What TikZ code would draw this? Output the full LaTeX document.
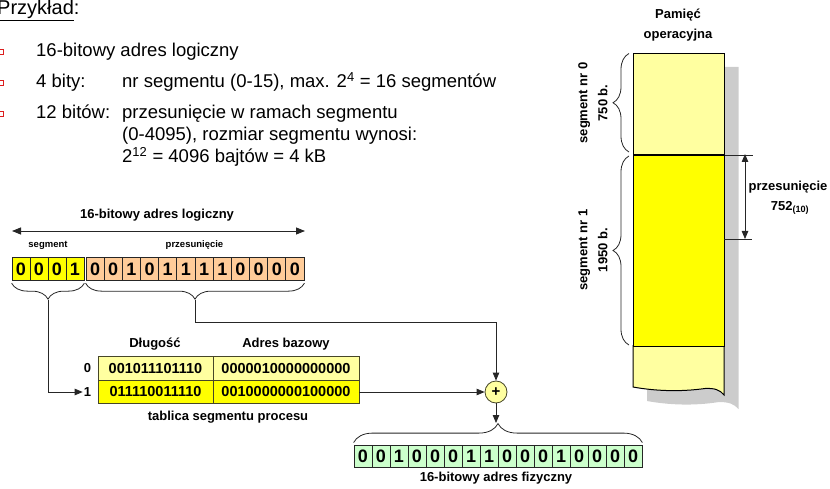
\documentclass[tikz,border=0pt]{standalone}
\usepackage{fontspec}
\setmainfont{Liberation Sans}
\usetikzlibrary{arrows.meta,decorations.pathreplacing}
\definecolor{zolty}{RGB}{255,255,0}
\definecolor{jasnyzolty}{RGB}{255,255,160}
\definecolor{lososiowy}{RGB}{255,204,153}
\definecolor{zielony}{RGB}{204,255,204}
\definecolor{cien}{RGB}{204,204,204}
\definecolor{punktor}{RGB}{220,30,30}
\definecolor{ramka}{RGB}{70,70,40}
\tikzset{
  bit/.style={draw=black!85, line width=0.8pt, minimum width=18pt, minimum height=23.5pt, inner sep=0pt, font=\fontsize{18}{18}\selectfont\bfseries},
  komorka/.style={draw=ramka, line width=0.8pt, minimum height=23.5pt, inner sep=0pt, font=\fontsize{14.5}{15}\selectfont\bfseries},
  opis/.style={font=\fontsize{13}{20}\selectfont\bfseries, inner sep=1pt},
  maly/.style={font=\fontsize{9.5}{10}\selectfont\bfseries, inner sep=1pt},
  tekst/.style={font=\fontsize{18.5}{20}\selectfont, anchor=base west, inner sep=0pt},
  punkt/.style={draw=punktor, fill=white, line width=0.7pt, minimum size=5pt, inner sep=0pt},
  strz/.style={-{Triangle[length=8pt,width=6.5pt]}, black!85, line width=0.8pt},
  klamra/.style={decorate, decoration={brace, amplitude=#1}, black!85, line width=0.8pt},
}
\begin{document}
\begin{tikzpicture}[x=10pt,y=-10pt]
   \useasboundingbox (0,0) rectangle (83,48.9);
   % tekst u gory
   \node[tekst] (przyklad) at (-0.3,1.45) {\fontsize{20}{22}\selectfont\underline{Przykład}:};
   \node[punkt] (b1) at (0.05,5.15) {};\node[punkt] (b2) at (0.05,8.25) {};\node[punkt] (b3) at (0.05,11.35) {};
   \node[tekst] (t1) at (3.6,5.7) {16-bitowy adres logiczny};
   \node[tekst] (t2) at (3.6,8.8) {4 bity:};
   \node[tekst] (t2a) at (12.2,8.8) {nr segmentu (0-15), max. 2\textsuperscript{4} = 16 segmentów};
   \node[tekst] (t3) at (3.6,11.9) {12 bitów:};
   \node[tekst] (t3a) at (12.2,11.9) {przesunięcie w ramach segmentu};
   \node[tekst] (t3b) at (12.2,14.1) {(0-4095), rozmiar segmentu wynosi:};
   \node[tekst] (t3c) at (12.2,16.3) {2\textsuperscript{12} = 4096 bajtów = 4 kB};
   % adres logiczny
   \node[opis] (llog) at (15.7,21.5) {16-bitowy adres logiczny};
   \coordinate (la) at (1.2,23.1);\coordinate (lb) at (30.5,23.1);
   \draw[{Triangle[length=9pt,width=7pt]}-{Triangle[length=9pt,width=7pt]}, black!85, line width=0.8pt] (la) -- (lb);
   \node[maly] (lseg) at (4.8,24.5) {segment};
   \node[maly] (lprz) at (19.45,24.5) {przesunięcie};
   \foreach \b [count=\i] in {0,0,0,1}
      \node[bit, fill=zolty] (s\i) at ({0.3+1.8*\i},26.9) {\b};
   \foreach \b [count=\i] in {0,0,1,0,1,1,1,1,0,0,0,0}
      \node[bit, fill=lososiowy, minimum width=18.2pt] (p\i) at ({7.69+1.817*\i},26.9) {\b};
   \draw[klamra=16pt] ([yshift=-2pt]s4.south east) -- ([yshift=-2pt]s1.south west);
   \draw[klamra=16pt] ([yshift=-2pt]p12.south east) -- ([yshift=-2pt]p1.south west);
   \coordinate (ks) at (4.8,29.95);\coordinate (kp) at (19.5,29.95);
   % tablica segmentow
   \node[opis] (hdl) at (15.5,34.4) {Długość};
   \node[opis] (had) at (28.6,34.4) {Adres bazowy};
   \node[komorka, fill=jasnyzolty, minimum width=115pt] (d0) at (15.55,36.85) {001011101110};
   \node[komorka, fill=jasnyzolty, minimum width=146pt] (a0) at (28.6,36.85) {0000010000000000};
   \node[komorka, fill=zolty, minimum width=115pt] (d1) at (15.55,39.2) {011110011110};
   \node[komorka, fill=zolty, minimum width=146pt] (a1) at (28.6,39.2) {0010000000100000};
   \node[opis] (w0) at (8.75,36.85) {0};
   \node[opis] (w1) at (8.75,39.2) {1};
   \node[opis] (tab) at (22.8,41.7) {tablica segmentu procesu};
   \node[circle, draw=ramka, fill=jasnyzolty, line width=0.8pt, minimum size=22pt, inner sep=0pt, font=\fontsize{15}{15}\selectfont\bfseries] (plus) at (49.6,39.2) {+};
   \draw[strz] (ks) |- (w1.west);
   \draw[strz] (kp) -- ++(0,2.25) -| (plus.north);
   \draw[strz] (a1.east) -- (plus.west);
   % adres fizyczny
   \foreach \b [count=\i] in {0,0,1,0,0,0,1,1,0,0,0,1,0,0,0,0}
      \node[bit, fill=zielony, minimum height=22pt] (f\i) at ({34.5+1.8*\i},45.6) {\b};
   \draw[klamra=19pt] ([yshift=2pt]f1.north west) -- ([yshift=2pt]f16.north east);
   \coordinate (kf) at (49.6,42.3);
   \draw[strz] (plus.south) -- (kf);
   \node[opis] (lfiz) at (49.6,47.85) {16-bitowy adres fizyczny};
   % pamiec operacyjna
   \node[opis, align=center] (pam) at (67.8,2.5) {Pamięć\\operacyjna};
   \fill[cien] (64.7,6.7) -- (73.85,6.7) -- (73.85,40.9) .. controls (73.4,40.4) and (72.9,40.2) .. (71.9,40.2)
      .. controls (69.4,40.6) and (66.9,40.5) .. (64.7,40.1) -- cycle;
   \fill[jasnyzolty] (63.3,34.5) -- (72.4,34.5) -- (72.4,39.5) .. controls (72.0,39.0) and (71.5,38.8) .. (70.5,38.85)
      .. controls (68,39.2) and (65.5,39.1) .. (63.3,38.7) -- cycle;
   \draw[line width=1pt] (63.3,34.5) -- (63.3,38.7) .. controls (65.5,39.1) and (68,39.2) .. (70.5,38.85)
      .. controls (71.5,38.8) and (72.0,39.0) .. (72.4,39.5) -- (72.4,34.5);
   \node[draw, line width=1pt, fill=jasnyzolty, minimum width=91pt, minimum height=101pt, anchor=north west, inner sep=0pt] (seg0) at (63.3,5.3) {};
   \node[draw, line width=1pt, fill=zolty, minimum width=91pt, minimum height=191pt, anchor=north west, inner sep=0pt] (seg1) at (seg0.south west) {};
   \draw[klamra=16pt] (62.9,15.2) -- (62.9,5.35);
   \draw[klamra=16pt] (62.9,34.5) -- (62.9,15.6);
   \node[opis, align=center, rotate=90] (ls0) at (59.3,10.3) {segment nr 0\\750 b.};
   \node[opis, align=center, rotate=90] (ls1) at (59.3,25.0) {segment nr 1\\1950 b.};
   % przesuniecie w pamieci
   \coordinate (o1) at (74.5,15.4);\coordinate (o2) at (74.5,23.9);
   \draw[black!85, line width=0.8pt] (seg1.north east) -- ++(2.8,0);
   \draw[black!85, line width=0.8pt] (72.4,23.9) -- ++(2.8,0);
   \draw[strz, {Triangle[length=8pt,width=6.5pt]}-{Triangle[length=8pt,width=6.5pt]}] (o1) -- (o2);
   \node[opis] (lprzes) at (78.8,18.7) {przesunięcie};
   \node[opis] (l752) at (79,20.8) {752\textsubscript{(10)}};
\end{tikzpicture}
\end{document}
